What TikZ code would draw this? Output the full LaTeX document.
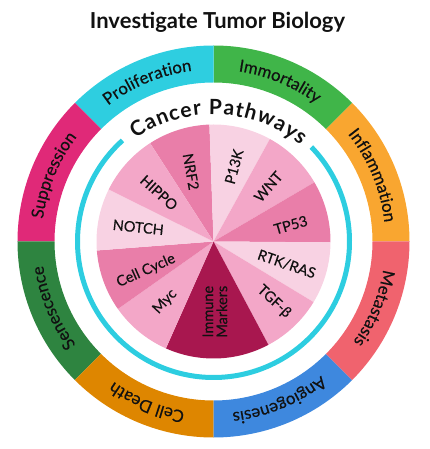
\documentclass[tikz,border=0pt]{standalone}
\usepackage{fontspec}
\setmainfont{Lato}
\newfontfamily\medfam[FakeBold=0.35]{Lato}
\usetikzlibrary{decorations.text}
\definecolor{cProl}{HTML}{2ECEE0}
\definecolor{cImm}{HTML}{40B549}
\definecolor{cInfl}{HTML}{F9A630}
\definecolor{cMet}{HTML}{F0636E}
\definecolor{cAng}{HTML}{3E88DE}
\definecolor{cDeath}{HTML}{DE8600}
\definecolor{cSen}{HTML}{2E8440}
\definecolor{cSupp}{HTML}{E02978}
\definecolor{cCyan}{HTML}{2DCDE0}
\definecolor{pMed}{HTML}{E97EA9}
\definecolor{pLight}{HTML}{F3A7C8}
\definecolor{pPale}{HTML}{F8D2E3}
\definecolor{pDark}{HTML}{A8174F}
\definecolor{txt}{HTML}{111111}
\newcommand\ringfont{\medfam\fontsize{16.8}{19}\selectfont}
\newcommand\cpfont{\fontsize{21}{24}\selectfont\bfseries}
\tikzset{
  ringlbl/.style={decorate, decoration={text along path, text align=center, text color=txt, text={|\ringfont|#1}}},
  pielbl/.style={font=\medfam\fontsize{14.5}{14}\selectfont, text=txt, inner sep=0pt},
}
\begin{document}
\begin{tikzpicture}[x=1pt,y=1pt]
\useasboundingbox (-213.5pt,-207.5pt) rectangle (215.5pt,241.5pt);
\node[font=\fontsize{22}{26}\selectfont\bfseries, text=txt] (title) at (4pt,219pt) {Investigate Tumor Biology};

% outer ring
\foreach \a/\c in {0/cInfl,45/cImm,90/cProl,135/cSupp,180/cSen,225/cDeath,270/cAng,315/cMet} {
  \fill[\c] (\a:196pt) arc[start angle=\a, end angle=\a+45, radius=196pt] -- ({\a+45}:159pt) arc[start angle=\a+45, end angle=\a, radius=159pt] -- cycle;
}
\path[ringlbl=Inflammation] (62.5:172pt) arc[start angle=62.5, end angle=-17.5, radius=172pt];
\path[ringlbl=Immortality] (107.5:172pt) arc[start angle=107.5, end angle=27.5, radius=172pt];
\path[ringlbl=Proliferation] (152.5:172pt) arc[start angle=152.5, end angle=72.5, radius=172pt];
\path[ringlbl=Suppression] (197.5:172pt) arc[start angle=197.5, end angle=117.5, radius=172pt];
\path[ringlbl=Senescence] (242.5:172pt) arc[start angle=242.5, end angle=162.5, radius=172pt];
\path[ringlbl=Cell Death] (287.5:172pt) arc[start angle=287.5, end angle=207.5, radius=172pt];
\path[ringlbl=Angiogenesis] (332.5:172pt) arc[start angle=332.5, end angle=252.5, radius=172pt];
\path[ringlbl=Metastasis] (17.5:172pt) arc[start angle=17.5, end angle=-62.5, radius=172pt];

% cyan ring and title
\draw[cCyan, line width=5pt] (44:136pt) arc[start angle=44, end angle=-228, radius=136pt];
\path[decorate, decoration={text along path, text align=fit to path, text color=txt, text={|\cpfont|Cancer Pathways}}] ([shift={(0pt,-10pt)}]124.7:137pt) arc[start angle=124.7, end angle=50.6, radius=137pt];

% pie
\foreach \s/\e/\c in {92/122.8/pMed, 61.2/92/pPale, 30.4/61.2/pLight, -0.4/30.4/pMed, -31.2/-0.4/pPale, -62/-31.2/pLight, -114/-62/pDark, -144.8/-114/pLight, -175.6/-144.8/pMed, 153.6/184.4/pPale, 122.8/153.6/pLight} {
  \fill[\c] (0,0) -- (\s:117pt) arc[start angle=\s, end angle=\e, radius=117pt] -- cycle;
}
\node[pielbl, rotate=-80] (nrf) at (-22.5pt,69.8pt) {NRF2};
\node[pielbl, rotate=75] (pik) at (20.5pt,74.8pt) {P13K};
\node[pielbl, rotate=49] (wnt) at (54.8pt,54.8pt) {WNT};
\node[pielbl, rotate=16] (tp) at (77.2pt,16.5pt) {TP53};
\node[pielbl, rotate=-19] (rtk) at (73.2pt,-22.5pt) {RTK/RAS};
\node[pielbl, rotate=-43] (tgf) at (60.5pt,-60.2pt) {TGF-β};
\node[pielbl, rotate=90, align=center] (imm) at (1.5pt,-70.2pt) {Immune\\Markers};
\node[pielbl, rotate=47] (myc) at (-48.5pt,-60.2pt) {Myc};
\node[pielbl, rotate=24] (cc) at (-67.5pt,-29.2pt) {Cell Cycle};
\node[pielbl, rotate=-6] (notch) at (-75.2pt,14.2pt) {NOTCH};
\node[pielbl, rotate=-42] (hippo) at (-54.5pt,48.8pt) {HIPPO};
\end{tikzpicture}
\end{document}
